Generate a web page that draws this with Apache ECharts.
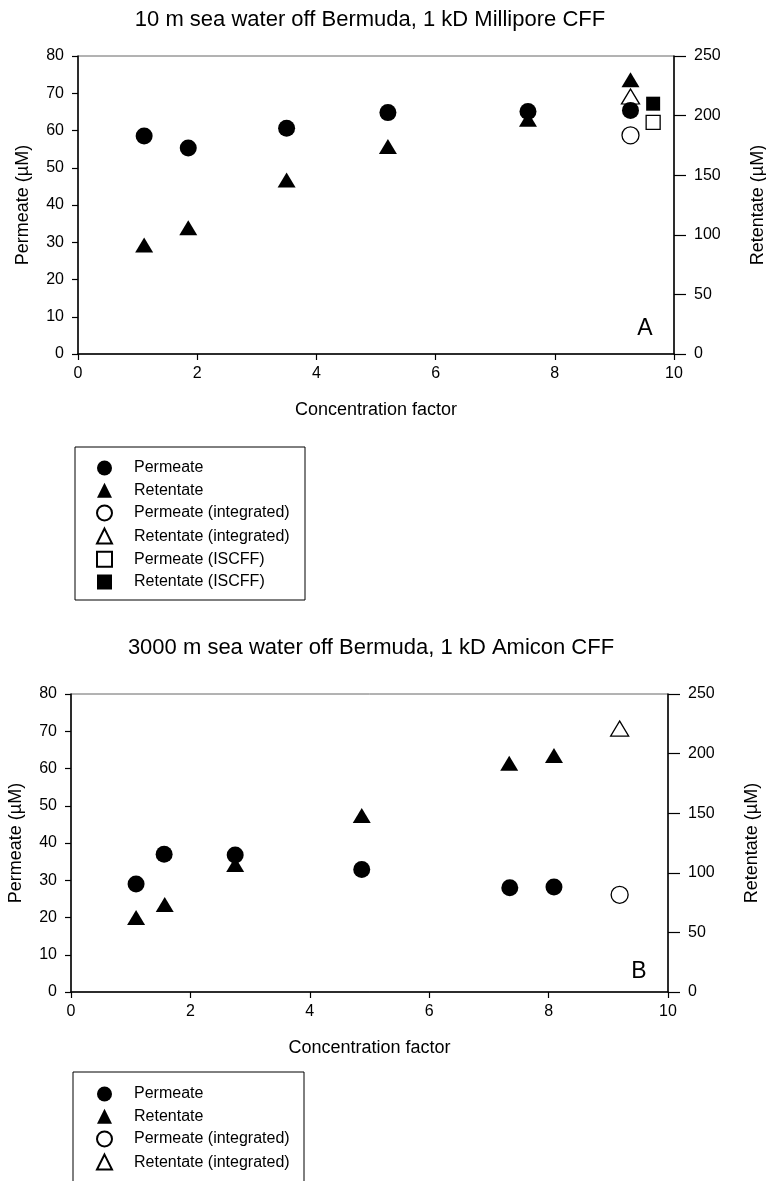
<!DOCTYPE html>
<html>
<head>
<meta charset="utf-8">
<script src="https://cdn.jsdelivr.net/npm/echarts@6/dist/echarts.min.js"></script>
<style>html,body{margin:0;padding:0;background:#fff;}#c{width:766px;height:1181px;}</style>
</head>
<body>
<div id="c"></div>
<script>
// ---- Data: panel A (10 m, Millipore CFF) ----
const titleA = '10 m sea water off Bermuda, 1 kD Millipore CFF';
const aPermeateX = [1.11, 1.85, 3.5, 5.2, 7.55, 9.27];
const aPermeateY = [58.5, 55.3, 60.6, 64.8, 65.1, 65.4];
const aRetentateX = [1.11, 1.85, 3.5, 5.2, 7.55, 9.27];
const aRetentateY = [91.5, 106, 146, 174, 197, 230];
const aPermIntX = [9.27];
const aPermIntY = [58.7];
const aRetIntX = [9.27];
const aRetIntY = [216];
const aPermIscffX = [9.65];
const aPermIscffY = [62.2];
const aRetIscffX = [9.65];
const aRetIscffY = [210];

// ---- Data: panel B (3000 m, Amicon CFF) ----
const titleB = '3000 m sea water off Bermuda, 1 kD Amicon CFF';
const bPermeateX = [1.09, 1.56, 2.75, 4.87, 7.35, 8.09];
const bPermeateY = [29.0, 37.0, 36.8, 32.9, 28.0, 28.2];
const bRetentateX = [1.09, 1.57, 2.75, 4.87, 7.34, 8.09];
const bRetentateY = [62.6, 73.5, 107, 148, 192, 198.5];
const bPermIntX = [9.19];
const bPermIntY = [26.1];
const bRetIntX = [9.19];
const bRetIntY = [221];

// ---- Axis / label texts ----
const xName = 'Concentration factor';
const yLeftName = 'Permeate (\u00b5M)';
const yRightName = 'Retentate (\u00b5M)';
const legendA = ['Permeate', 'Retentate', 'Permeate (integrated)', 'Retentate (integrated)', 'Permeate (ISCFF)', 'Retentate (ISCFF)'];
const legendB = ['Permeate', 'Retentate', 'Permeate (integrated)', 'Retentate (integrated)'];

const FONT = '"Liberation Sans", Arial, Helvetica, sans-serif';
const pts = (xs, ys) => xs.map((x, i) => [x, ys[i]]);

function xAxis(gi) {
  return {
    type: 'value', gridIndex: gi, min: 0, max: 10, interval: 2,
    name: xName, nameLocation: 'middle', nameGap: 47,
    nameTextStyle: { fontFamily: FONT, fontSize: 18, color: '#000' },
    axisLine: { lineStyle: { color: '#000', width: 1.5 } },
    axisTick: { length: 6, lineStyle: { color: '#000', width: 1.2 } },
    axisLabel: { fontFamily: FONT, fontSize: 16, color: '#000', margin: 12 },
    splitLine: { show: false }
  };
}
function yLeft(gi) {
  return {
    type: 'value', gridIndex: gi, position: 'left', min: 0, max: 80, interval: 10,
    name: yLeftName, nameLocation: 'middle', nameGap: 46,
    nameTextStyle: { fontFamily: FONT, fontSize: 18, color: '#000' },
    axisLine: { show: true, lineStyle: { color: '#000', width: 1.5 } },
    axisTick: { show: true, length: 6, lineStyle: { color: '#000', width: 1.2 } },
    axisLabel: { fontFamily: FONT, fontSize: 16, color: '#000', margin: 14 },
    splitLine: { show: false }
  };
}
function yRight(gi) {
  return {
    type: 'value', gridIndex: gi, position: 'right', min: 0, max: 250, interval: 50,
    name: yRightName, nameLocation: 'middle', nameGap: 75,
    nameTextStyle: { fontFamily: FONT, fontSize: 18, color: '#000' },
    axisLine: { show: true, lineStyle: { color: '#000', width: 1.5 } },
    axisTick: { show: true, length: 12, lineStyle: { color: '#000', width: 1.2 } },
    axisLabel: { fontFamily: FONT, fontSize: 16, color: '#000', margin: 20 },
    splitLine: { show: false }
  };
}

const filled = { color: '#000', opacity: 1 };
const open = { color: '#fff', borderColor: '#000', borderWidth: 1.3, opacity: 1 };
const circle = 17, tri = [18, 15], sq = 14;

function s(name, xi, yi, data, symbol, size, style, z) {
  return { name, type: 'scatter', xAxisIndex: xi, yAxisIndex: yi, data, symbol, symbolSize: size,
           itemStyle: style, z: z, emphasis: { disabled: true }, animation: false };
}

const series = [
  // panel A
  s('Retentate', 0, 1, pts(aRetentateX, aRetentateY), 'triangle', tri, filled, 2),
  s('Permeate', 0, 0, pts(aPermeateX, aPermeateY), 'circle', circle, filled, 3),
  s('Permeate (integrated)', 0, 0, pts(aPermIntX, aPermIntY), 'circle', circle, open, 2),
  s('Retentate (integrated)', 0, 1, pts(aRetIntX, aRetIntY), 'triangle', tri, open, 2),
  s('Permeate (ISCFF)', 0, 0, pts(aPermIscffX, aPermIscffY), 'rect', sq, open, 2),
  s('Retentate (ISCFF)', 0, 1, pts(aRetIscffX, aRetIscffY), 'rect', sq, filled, 2),
  // panel B
  s('Retentate', 1, 3, pts(bRetentateX, bRetentateY), 'triangle', tri, filled, 2),
  s('Permeate', 1, 2, pts(bPermeateX, bPermeateY), 'circle', circle, filled, 3),
  s('Permeate (integrated)', 1, 2, pts(bPermIntX, bPermIntY), 'circle', circle, open, 2),
  s('Retentate (integrated)', 1, 3, pts(bRetIntX, bRetIntY), 'triangle', tri, open, 2)
];

function legend(data, top) {
  return {
    data, orient: 'vertical', left: 96, top, padding: 0,
    itemWidth: 15, itemHeight: 15, itemGap: 6.2, selectedMode: false,
    textStyle: { fontFamily: FONT, fontSize: 16, color: '#000', lineHeight: 16, padding: [0, 0, 0, 17] }
  };
}

const option = {
  backgroundColor: '#fff',
  animation: false,
  grid: [
    { left: 78, right: 92, top: 56, height: 298, show: true, borderColor: '#666', borderWidth: 1, outerBoundsMode: 'none', containLabel: false },
    { left: 71, right: 98, top: 694, height: 298, show: true, borderColor: '#666', borderWidth: 1, outerBoundsMode: 'none', containLabel: false }
  ],
  xAxis: [xAxis(0), xAxis(1)],
  yAxis: [yLeft(0), yRight(0), yLeft(1), yRight(1)],
  legend: [legend(legendA, 460), legend(legendB, 1086)],
  series,
  graphic: [
    { type: 'text', x: 370, y: 20, style: { text: titleA, font: '22px ' + FONT, fill: '#000', textAlign: 'center', textVerticalAlign: 'middle' } },
    { type: 'text', x: 371, y: 648, style: { text: titleB, font: '22px ' + FONT, fill: '#000', textAlign: 'center', textVerticalAlign: 'middle' } },
    { type: 'text', x: 645, y: 329, style: { text: 'A', font: '23px ' + FONT, fill: '#000', textAlign: 'center', textVerticalAlign: 'middle' } },
    { type: 'text', x: 639, y: 972, style: { text: 'B', font: '23px ' + FONT, fill: '#000', textAlign: 'center', textVerticalAlign: 'middle' } },
    { type: 'rect', shape: { x: 75, y: 447, width: 230, height: 153 }, style: { fill: 'none', stroke: '#000', lineWidth: 1 } },
    { type: 'rect', shape: { x: 73, y: 1072, width: 231, height: 140 }, style: { fill: 'none', stroke: '#000', lineWidth: 1 } }
  ]
};

const chart = echarts.init(document.getElementById('c'), null, { renderer: 'canvas' });
chart.setOption(option);
</script>
</body>
</html>
